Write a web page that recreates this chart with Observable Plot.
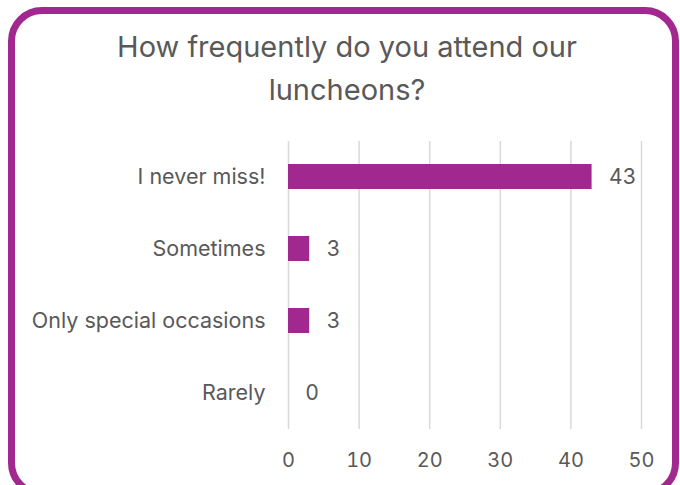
<!DOCTYPE html>
<html>
<head>
<meta charset="utf-8">
<script src="https://cdn.jsdelivr.net/npm/d3@7"></script>
<script src="https://cdn.jsdelivr.net/npm/@observablehq/plot@0.6"></script>
<style>
  html, body { margin: 0; padding: 0; background: #fff; overflow: hidden; }
  #wrap { position: relative; width: 680px; height: 485px; overflow: hidden; font-family: Inter, "Open Sans", sans-serif; }
  #frame { position: absolute; left: 8px; top: 7px; width: 671px; height: 490px; box-sizing: border-box;
           border: 7px solid #a0288f; border-radius: 34px; pointer-events: none; }
  #title { position: absolute; left: 0; top: 25px; width: 694px; text-align: center; color: #595959;
           font-size: 29px; line-height: 43px; font-weight: 400; }
  #chart { position: absolute; left: 0; top: 130px; }
</style>
</head>
<body>
<div id="wrap">
  <div id="title">How frequently do you attend our<br>luncheons?</div>
  <div id="chart"></div>
  <div id="frame"></div>
</div>
<script>
const categories = ["I never miss!", "Sometimes", "Only special occasions", "Rarely"];
const counts = [43, 3, 3, 0];
const xTicks = [0, 10, 20, 30, 40, 50];

const data = categories.map((c, i) => ({category: c, count: counts[i]}));

const chart = Plot.plot({
  width: 680,
  height: 355,
  marginTop: 11,
  marginBottom: 56,
  marginLeft: 288,
  marginRight: 39,
  style: {fontFamily: "Inter, 'Open Sans', sans-serif", fontSize: "21px", color: "#595959", background: "transparent"},
  x: {domain: [0, 50], ticks: xTicks, label: null},
  y: {domain: categories, label: null, paddingInner: 0.65, paddingOuter: 0.325},
  marks: [
    Plot.gridX(xTicks, {stroke: "#d9d9d9", strokeOpacity: 1, strokeWidth: 1.5}),
    Plot.axisX({ticks: xTicks, tickSize: 0, tickPadding: 23, fontSize: 20, fill: "#595959", label: null}),
    Plot.axisY({tickSize: 0, tickPadding: 23, fontSize: 21.5, fill: "#595959", label: null}),
    Plot.barX(data, {x: "count", y: "category", fill: "#a0288f"}),
    Plot.text(data, {x: "count", y: "category", text: d => String(d.count), textAnchor: "start", dx: 17, fontSize: 21, fill: "#595959"})
  ]
});
document.getElementById("chart").appendChild(chart);
</script>
</body>
</html>
